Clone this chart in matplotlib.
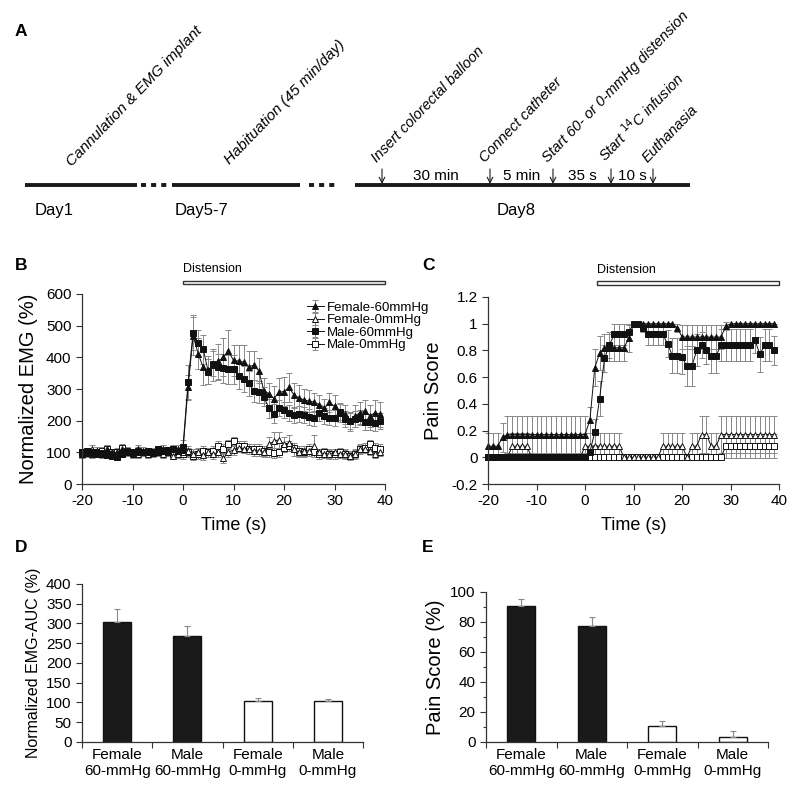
import numpy as np
import matplotlib
matplotlib.use("Agg")
import matplotlib.pyplot as plt
from matplotlib.patches import Rectangle

plt.rcParams['font.family'] = ['Liberation Sans', 'DejaVu Sans']
plt.rcParams['axes.unicode_minus'] = False

# ---- data ----
t = np.arange(-20, 40)

# panel B: normalized EMG (%)
fem60_emg = [95, 100, 98, 105, 95, 110, 100, 98, 112, 100, 95, 110, 105, 100, 98, 102, 112, 105, 110, 112,
             108, 305, 468, 412, 368, 360, 375, 388, 400, 420, 390, 388, 385, 370, 375, 358, 295, 285, 270, 290,
             292, 305, 280, 272, 265, 262, 258, 250, 240, 258, 245, 225, 220, 198, 215, 225, 230, 215, 225, 220]
fem60_emg_err = [12] * 20 + [15, 40, 60, 50, 55, 45, 50, 55, 60, 65, 50, 50, 55, 50, 45, 40, 40, 35, 40, 45,
                             45, 45, 40, 40, 35, 35, 30, 30, 30, 30, 35, 30, 30, 30, 35, 35, 35, 35, 40, 40]
male60_emg = [100, 105, 102, 95, 98, 92, 88, 85, 95, 100, 98, 100, 102, 105, 100, 110, 105, 108, 110, 105,
              118, 322, 478, 445, 425, 355, 380, 370, 365, 362, 362, 340, 332, 318, 295, 290, 275, 240, 222, 240,
              235, 225, 218, 220, 218, 212, 207, 225, 215, 210, 208, 228, 205, 200, 205, 210, 195, 195, 193, 198]
male60_emg_err = [10] * 20 + [20, 55, 55, 40, 45, 40, 40, 40, 45, 45, 45, 40, 40, 40, 35, 35, 30, 30, 30, 25,
                              25, 25, 25, 25, 25, 25, 25, 25, 25, 25, 25, 25, 25, 25, 25, 25, 25, 25, 25, 25]
fem0_emg = [95, 100, 110, 105, 95, 100, 95, 100, 100, 105, 100, 95, 100, 95, 100, 100, 95, 100, 90, 95,
            100, 105, 95, 100, 92, 100, 95, 100, 82, 100, 108, 115, 112, 110, 105, 105, 100, 125, 135, 140,
            125, 130, 110, 100, 105, 105, 120, 100, 95, 95, 100, 95, 95, 90, 95, 110, 110, 105, 95, 100]
fem0_emg_err = [12] * 20 + [15] * 17 + [25, 30, 25, 25, 25, 20, 15, 15, 15, 35] + [12] * 13
male0_emg = [100, 98, 95, 100, 105, 110, 100, 102, 115, 105, 100, 105, 100, 98, 102, 100, 105, 100, 95, 100,
             95, 100, 90, 95, 105, 100, 105, 120, 110, 125, 135, 120, 120, 110, 110, 110, 105, 100, 98, 100,
             115, 120, 115, 105, 100, 110, 100, 95, 100, 95, 95, 100, 95, 90, 95, 110, 115, 125, 115, 110]
male0_emg_err = [12] * 20 + [15] * 40

# panel C: pain score
fem60_pain = [0.083] * 3 + [0.15] + [0.17] * 16 + [0.17, 0.28, 0.67, 0.78] + [0.82] * 5 + [0.89] \
             + [1.0] * 9 + [0.97] + [0.9] * 9 + [0.98] + [1.0] * 10
fem60_pain_err = [0.1] * 3 + [0.11] + [0.14] * 16 + [0.14, 0.1, 0.14, 0.13] + [0.1] * 5 + [0.1] \
                 + [0.0] * 9 + [0.03] + [0.09] * 9 + [0.03] + [0.0] * 10
male60_pain = [0.0] * 20 + [0.0, 0.04, 0.19, 0.44, 0.74, 0.84, 0.92, 0.92, 0.92, 0.94, 1.0, 1.0, 0.97,
                            0.92, 0.92, 0.92, 0.92, 0.85, 0.76, 0.76, 0.75, 0.68, 0.68, 0.8, 0.84, 0.8, 0.76,
                            0.76, 0.84, 0.84, 0.84, 0.84, 0.84, 0.84, 0.84, 0.88, 0.77, 0.84, 0.84, 0.8]
male60_pain_err = [0.0] * 20 + [0.0, 0.04, 0.1, 0.13, 0.1, 0.1, 0.08, 0.08, 0.08, 0.06, 0.0, 0.0, 0.03,
                                0.08, 0.08, 0.08, 0.08, 0.1, 0.13, 0.13, 0.13, 0.15, 0.15, 0.12, 0.1, 0.1, 0.13,
                                0.13, 0.12, 0.12, 0.12, 0.12, 0.12, 0.12, 0.12, 0.1, 0.13, 0.12, 0.12, 0.11]
fem0_pain = [0.0] * 5 + [0.083] * 4 + [0.0] * 11 + [0.083] * 8 + [0.0] * 8 + [0.083] * 5 + [0.0] \
            + [0.083] * 2 + [0.17] * 2 + [0.083] * 2 + [0.17] * 12
fem0_pain_err = [0.0] * 5 + [0.1] * 4 + [0.0] * 11 + [0.1] * 8 + [0.0] * 8 + [0.1] * 5 + [0.0] \
                + [0.1] * 2 + [0.14] * 2 + [0.1] * 2 + [0.14] * 12
male0_pain = [0.0] * 49 + [0.083] * 11
male0_pain_err = [0.0] * 49 + [0.09] * 11

# panels D and E
groups = ['Female\n60-mmHg', 'Male\n60-mmHg', 'Female\n0-mmHg', 'Male\n0-mmHg']
auc = [303, 268, 104, 103]
auc_err = [33, 25, 8, 7]
pain_pct = [90.5, 77, 10.5, 3.5]
pain_pct_err = [4.5, 6.5, 3.5, 3.5]
bar_colors = ['#1a1a1a', '#1a1a1a', 'white', 'white']

# panel A timeline (schematic positions in pixels)
events = ['Insert colorectal balloon', 'Connect catheter', 'Start 60- or 0-mmHg distension',
          'Start $^{14}$C infusion', 'Euthanasia']
event_x = [382, 490, 553, 611, 653]
intervals = ['30 min', '5 min', '35 s', '10 s']
days = ['Day1', 'Day5-7', 'Day8']

fig = plt.figure(figsize=(8, 7.85), dpi=100)

# ---- panel A ----
axA = fig.add_axes([0, 0, 1, 1])
axA.set_xlim(0, 800)
axA.set_ylim(785, 0)
axA.axis('off')
for x0, x1 in [(25, 137), (172, 300), (355, 690)]:
    axA.plot([x0, x1], [185, 185], color='#1a1a1a', lw=2.8, solid_capstyle='butt')
for x0, x1 in [(141, 168), (309, 339)]:
    axA.plot([x0, x1], [185, 185], color='#1a1a1a', lw=2.8, ls=(0, (1.3, 1.3)))
axA.text(72, 167, 'Cannulation & EMG implant', rotation=46, rotation_mode='anchor',
         ha='left', va='baseline', fontsize=11, style='italic')
axA.text(230, 165, 'Habituation (45 min/day)', rotation=46, rotation_mode='anchor',
         ha='left', va='baseline', fontsize=11, style='italic')
for lab, x in zip(events, event_x):
    axA.text(x - 5, 163, lab, rotation=46, rotation_mode='anchor',
             ha='left', va='baseline', fontsize=10.5, style='italic')
    axA.annotate('', xy=(x, 184), xytext=(x, 169),
                 arrowprops=dict(arrowstyle='->', lw=0.8, color='#1a1a1a', shrinkA=0, shrinkB=0))
for i, lab in enumerate(intervals):
    axA.text((event_x[i] + event_x[i + 1]) / 2, 176, lab, ha='center', va='center', fontsize=11)
for lab, x in zip(days, [54, 202, 516]):
    axA.text(x, 211, lab, ha='center', va='center', fontsize=12)
for lab, x, y in [('A', 15, 32), ('B', 15, 265), ('C', 422, 265), ('D', 15, 548), ('E', 422, 548)]:
    axA.text(x, y, lab, ha='left', va='center', fontsize=12.5, fontweight='bold')


def style_axes(ax):
    for s in ['top', 'right']:
        ax.spines[s].set_visible(False)
    for s in ['left', 'bottom']:
        ax.spines[s].set_color('#333333')
        ax.spines[s].set_linewidth(0.9)
    ax.tick_params(direction='out', length=4, width=0.8, color='#333333', labelsize=11)


def series(ax, y, err, marker, face, label=None):
    ax.errorbar(t, y, yerr=err, fmt='-', marker=marker, color='#111111', lw=0.7,
                mfc=face, mec='#111111', mew=0.7, ms=4.5, ecolor='#888888',
                elinewidth=0.7, capsize=2, capthick=0.7, label=label, clip_on=False)


# ---- panel B ----
axB = fig.add_axes([0.1025, 0.3834, 0.3788, 0.2421])
style_axes(axB)
series(axB, male0_emg, male0_emg_err, 's', 'white', 'Male-0mmHg')
series(axB, fem0_emg, fem0_emg_err, '^', 'white', 'Female-0mmHg')
series(axB, male60_emg, male60_emg_err, 's', '#111111', 'Male-60mmHg')
series(axB, fem60_emg, fem60_emg_err, '^', '#111111', 'Female-60mmHg')
axB.set_xlim(-20, 40)
axB.set_ylim(0, 600)
axB.set_xticks(range(-20, 41, 10))
axB.set_yticks(range(0, 601, 100))
axB.set_xlabel('Time (s)', fontsize=13, labelpad=6)
axB.set_ylabel('Normalized EMG (%)', fontsize=14.5, labelpad=6)
h, l = axB.get_legend_handles_labels()
order = [3, 1, 2, 0]
axB.legend([h[i] for i in order], [l[i] for i in order], loc='upper left', bbox_to_anchor=(0.72, 0.995),
           frameon=False, fontsize=9.5, handlelength=1.3, handletextpad=0.2, labelspacing=0.02, borderpad=0)
axB.add_patch(Rectangle((0, 1.05), 40, 0.018, transform=axB.get_xaxis_transform(),
                        facecolor='white', edgecolor='#333333', lw=1.0, clip_on=False))
axB.text(0, 1.1, 'Distension', transform=axB.get_xaxis_transform(), fontsize=9, ha='left', va='bottom')

# ---- panel C ----
axC = fig.add_axes([0.61, 0.3834, 0.364, 0.2383])
style_axes(axC)
series(axC, male0_pain, male0_pain_err, 's', 'white')
series(axC, fem0_pain, fem0_pain_err, '^', 'white')
series(axC, male60_pain, male60_pain_err, 's', '#111111')
series(axC, fem60_pain, fem60_pain_err, '^', '#111111')
axC.set_xlim(-20, 40)
axC.set_ylim(-0.2, 1.2)
axC.set_xticks(range(-20, 41, 10))
axC.set_yticks([-0.2, 0, 0.2, 0.4, 0.6, 0.8, 1.0, 1.2])
axC.set_yticklabels(['-0.2', '0', '0.2', '0.4', '0.6', '0.8', '1', '1.2'])
axC.set_xlabel('Time (s)', fontsize=13, labelpad=6)
axC.set_ylabel('Pain Score', fontsize=14.5, labelpad=6)
axC.add_patch(Rectangle((2.5, 1.065), 37.5, 0.018, transform=axC.get_xaxis_transform(),
                        facecolor='white', edgecolor='#333333', lw=1.0, clip_on=False))
axC.text(2.5, 1.11, 'Distension', transform=axC.get_xaxis_transform(), fontsize=9, ha='left', va='bottom')


def bar_panel(ax, vals, errs, ymax, step, ylabel, lsize):
    style_axes(ax)
    x = np.arange(len(groups))
    ax.bar(x, vals, width=0.4, color=bar_colors, edgecolor='#111111', lw=1.0, zorder=2)
    ax.errorbar(x, vals, yerr=[np.zeros(len(vals)), errs], fmt='none', ecolor='#888888',
                elinewidth=0.8, capsize=2, capthick=0.8, zorder=3)
    ax.set_xlim(-0.5, len(groups) - 0.5)
    ax.set_ylim(0, ymax)
    ax.set_yticks(np.arange(0, ymax + 1, step))
    ax.set_xticks(np.arange(-0.5, len(groups), 1.0))
    ax.set_xticklabels([])
    ax.set_xticks(x, minor=True)
    ax.set_xticklabels(groups, minor=True, fontsize=11)
    ax.tick_params(axis='x', which='minor', length=0, pad=4)
    ax.set_ylabel(ylabel, fontsize=lsize)


axD = fig.add_axes([0.1025, 0.0548, 0.3513, 0.2013])
bar_panel(axD, auc, auc_err, 400, 50, 'Normalized EMG-AUC (%)', 11.5)

axE = fig.add_axes([0.6075, 0.0548, 0.3525, 0.1911])
bar_panel(axE, pain_pct, pain_pct_err, 100, 20, 'Pain Score (%)', 14.5)
axE.set_yticks(np.arange(0, 101, 10), minor=True)
axE.tick_params(axis='y', which='minor', length=2.5, width=0.8, color='#333333')

fig.savefig('out.png', dpi=100)
